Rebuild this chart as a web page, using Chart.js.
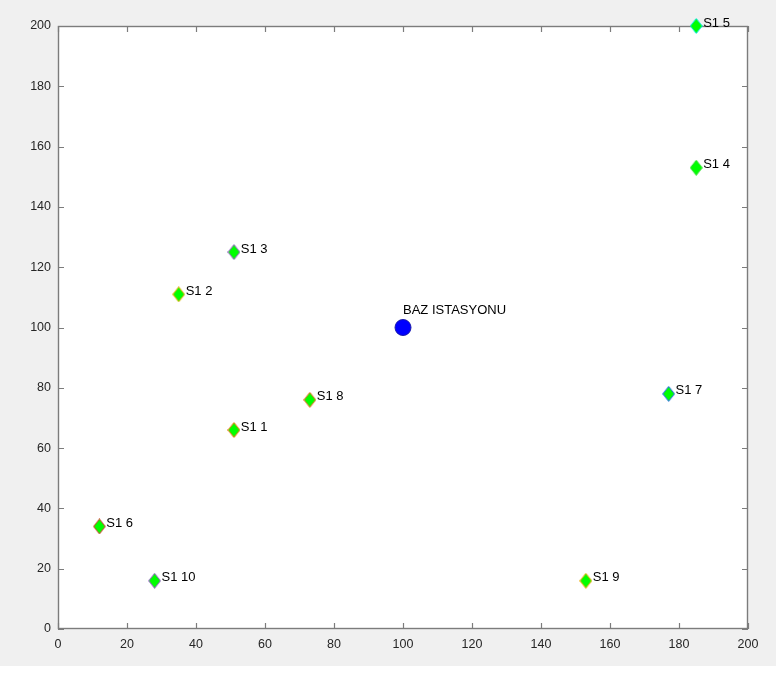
<!DOCTYPE html>
<html>
<head>
<meta charset="utf-8">
<script src="https://cdn.jsdelivr.net/npm/chart.js@4"></script>
<style>
html,body{margin:0;padding:0;background:#ffffff;}
#wrap{width:776px;height:673px;position:relative;}
</style>
</head>
<body>
<div id="wrap"><canvas id="c" width="776" height="673"></canvas></div>
<script>
// ---- data ----
const sensorLabels = ['S1 1','S1 2','S1 3','S1 4','S1 5','S1 6','S1 7','S1 8','S1 9','S1 10'];
const sensorX = [51, 35, 51, 185, 185, 12, 177, 73, 153, 28];
const sensorY = [66, 111, 125, 153, 200, 34, 78, 76, 16, 16];
const baseLabel = ['BAZ ISTASYONU'];
const baseX = [100];
const baseY = [100];
const xTicks = [0,20,40,60,80,100,120,140,160,180,200];
const yTicks = [0,20,40,60,80,100,120,140,160,180,200];

// ---- styles ----
const edgeColors = ['#ff6a00','#ffa500','#9a4fd0','#22dd22','#00e5e5','#e03030','#2a5cff','#ff5a1a','#ffa500','#9a4fd0'];
function makeDiamond(edge){
  const w = 13, h = 16;
  const c = document.createElement('canvas');
  c.width = w; c.height = h;
  const g = c.getContext('2d');
  g.beginPath();
  g.moveTo(w/2, 0.6); g.lineTo(w-0.6, h/2); g.lineTo(w/2, h-0.6); g.lineTo(0.6, h/2); g.closePath();
  g.fillStyle = '#00ff00'; g.fill();
  g.lineWidth = 1; g.strokeStyle = edge; g.stroke();
  return c;
}
const diamondStyles = edgeColors.map(makeDiamond);

const sensorPoints = sensorX.map((x,i)=>({x:x, y:sensorY[i]}));
const basePoints = baseX.map((x,i)=>({x:x, y:baseY[i]}));

const FONT = '"Liberation Sans", Arial, Helvetica, sans-serif';
const AXIS_COLOR = '#7c7c7c';
const TICK_TEXT = '#262626';

const bgPlugin = {
  id:'bg',
  beforeDraw(chart){
    const ctx = chart.ctx;
    ctx.save();
    ctx.fillStyle = '#f0f0f0';
    ctx.fillRect(0,0,chart.width,666);
    ctx.fillStyle = '#ffffff';
    ctx.fillRect(0,666,chart.width,chart.height-666);
    const a = chart.chartArea;
    ctx.fillStyle = '#ffffff';
    ctx.fillRect(a.left,a.top,a.right-a.left,a.bottom-a.top);
    ctx.restore();
  }
};

const axesPlugin = {
  id:'matlabAxes',
  beforeDatasetsDraw(chart){
    const ctx = chart.ctx, a = chart.chartArea;
    const xs = chart.scales.x, ys = chart.scales.y;
    ctx.save();
    ctx.strokeStyle = AXIS_COLOR;
    ctx.lineWidth = 1.4;
    ctx.strokeRect(Math.round(a.left)+0.5, Math.round(a.top)+0.5, Math.round(a.right-a.left)-1, Math.round(a.bottom-a.top)-1);
    const L = 6;
    ctx.lineWidth = 1.2;
    ctx.beginPath();
    xTicks.forEach(v=>{
      const px = Math.round(xs.getPixelForValue(v))+0.5;
      ctx.moveTo(px,a.bottom); ctx.lineTo(px,a.bottom-L);
      ctx.moveTo(px,a.top); ctx.lineTo(px,a.top+L);
    });
    yTicks.forEach(v=>{
      const py = Math.round(ys.getPixelForValue(v))+0.5;
      ctx.moveTo(a.left,py); ctx.lineTo(a.left+L,py);
      ctx.moveTo(a.right,py); ctx.lineTo(a.right-L,py);
    });
    ctx.stroke();
    ctx.fillStyle = TICK_TEXT;
    ctx.font = '12.5px ' + FONT;
    ctx.textAlign = 'center'; ctx.textBaseline = 'middle';
    xTicks.forEach(v=>{
      ctx.fillText(String(v), xs.getPixelForValue(v), a.bottom + 16);
    });
    ctx.textAlign = 'right';
    yTicks.forEach(v=>{
      ctx.fillText(String(v), a.left - 7, ys.getPixelForValue(v));
    });
    ctx.restore();
  },
  afterDatasetsDraw(chart){
    const ctx = chart.ctx;
    const xs = chart.scales.x, ys = chart.scales.y;
    ctx.save();
    ctx.fillStyle = '#000000';
    ctx.font = '13px ' + FONT;
    ctx.textAlign = 'left'; ctx.textBaseline = 'middle';
    sensorLabels.forEach((t,i)=>{
      ctx.fillText(t, xs.getPixelForValue(sensorX[i] + 2), ys.getPixelForValue(sensorY[i] + 1));
    });
    baseLabel.forEach((t,i)=>{
      ctx.fillText(t, xs.getPixelForValue(baseX[i]), ys.getPixelForValue(baseY[i] + 5.5));
    });
    ctx.restore();
  }
};

new Chart(document.getElementById('c'), {
  type:'scatter',
  data:{
    datasets:[
      {
        label:'Sensors',
        data: sensorPoints,
        pointStyle: diamondStyles,
        pointRadius: 7,
        pointHoverRadius: 7,
        clip: false
      },
      {
        label:'Base',
        data: basePoints,
        pointStyle:'circle',
        pointRadius: 8,
        pointHoverRadius: 8,
        backgroundColor:'#0000ff',
        borderColor:'#1a1aaa',
        borderWidth:1,
        clip:false
      }
    ]
  },
  options:{
    responsive:false,
    animation:false,
    events:[],
    layout:{padding:{left:0,top:26,right:28,bottom:0}},
    plugins:{legend:{display:false}, tooltip:{enabled:false}},
    scales:{
      x:{
        type:'linear', min:0, max:200,
        grid:{display:false, drawTicks:false},
        border:{display:false},
        ticks:{display:false},
        afterFit(s){ s.height = 44; }
      },
      y:{
        type:'linear', min:0, max:200,
        grid:{display:false, drawTicks:false},
        border:{display:false},
        ticks:{display:false},
        afterFit(s){ s.width = 58; }
      }
    }
  },
  plugins:[bgPlugin, axesPlugin]
});
</script>
</body>
</html>
